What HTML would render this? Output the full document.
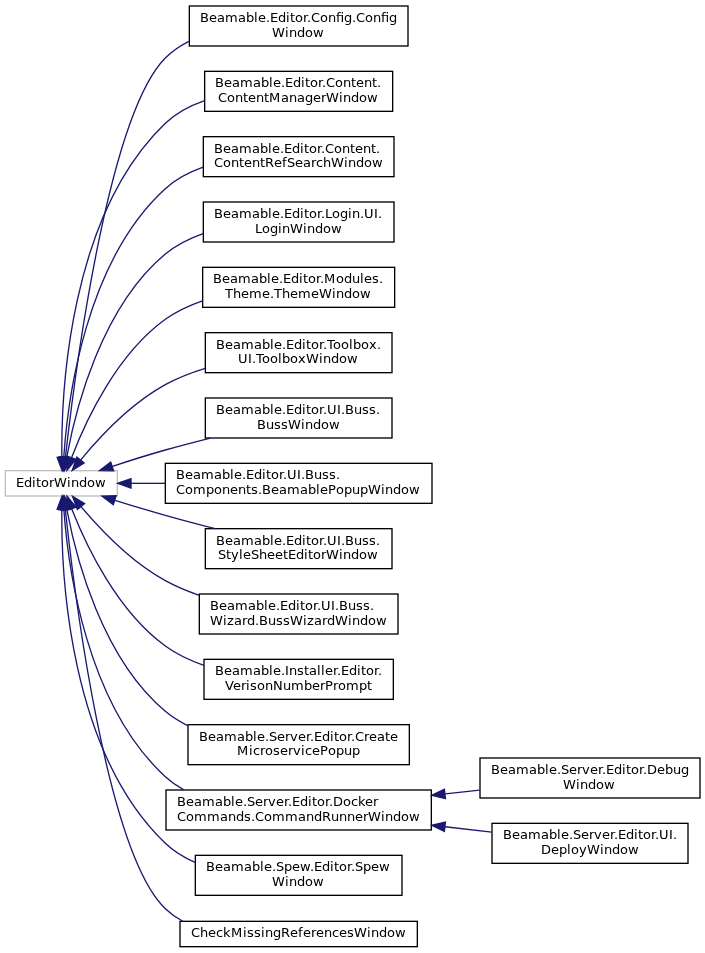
<!DOCTYPE html>
<html lang="en">
<head>
<meta charset="utf-8">
<title>Graphical Class Hierarchy</title>
<style>
html,body{margin:0;padding:0;background:#fff;}
body{width:705px;height:953px;overflow:hidden;}
svg{display:block;}
svg text{font-family:"DejaVu Sans","Liberation Sans",sans-serif;font-size:13px;fill:#000;}
</style>
</head>
<body>
<svg width="705" height="953" viewBox="0 0 705 953">
<rect x="0" y="0" width="705" height="953" fill="#ffffff"/>
<defs>
<filter id="fn" filterUnits="userSpaceOnUse" x="0" y="0" width="705" height="953" color-interpolation-filters="sRGB"><feComponentTransfer><feFuncA type="linear" slope="1.03" intercept="0"/></feComponentTransfer></filter>
</defs>
<!-- nodes (boxes) and inheritance edges; coordinates in points, scaled 96/72 -->
<g transform="scale(1.3333333) translate(4 710.5)">
<rect x="0" y="-357.5" width="84" height="19" fill="#fff" stroke="#bfbfbf"/>
<rect x="138" y="-706" width="164" height="30" fill="#fff" stroke="#000"/>
<path fill="none" stroke="midnightblue" d="M45.09,-367.72C52.13,-430.48 76.98,-623.93 120,-667 125.12,-672.13 131.15,-676.23 137.65,-679.5"/>
<polygon fill="midnightblue" stroke="midnightblue" points="48.55,-367.15 43.98,-357.59 41.59,-367.91 48.55,-367.15"/>
<rect x="149.5" y="-657" width="141" height="30" fill="#fff" stroke="#000"/>
<path fill="none" stroke="midnightblue" d="M42.37,-367.61C41.91,-417.24 47.93,-548.76 120,-618 128.23,-625.9 138.59,-631.35 149.5,-635.07"/>
<polygon fill="midnightblue" stroke="midnightblue" points="45.87,-367.64 42.57,-357.58 38.87,-367.5 45.87,-367.64"/>
<rect x="148.5" y="-608" width="143" height="30" fill="#fff" stroke="#000"/>
<path fill="none" stroke="midnightblue" d="M43.84,-367.78C46.78,-411.06 60.05,-514.62 120,-569 128.06,-576.31 137.96,-581.49 148.35,-585.14"/>
<polygon fill="midnightblue" stroke="midnightblue" points="47.33,-367.49 43.27,-357.7 40.34,-367.88 47.33,-367.49"/>
<rect x="148.5" y="-559" width="143" height="30" fill="#fff" stroke="#000"/>
<path fill="none" stroke="midnightblue" d="M46.05,-367.74C52.68,-403.73 71.88,-479.98 120,-520 128.23,-526.84 138.09,-531.79 148.37,-535.36"/>
<polygon fill="midnightblue" stroke="midnightblue" points="49.45,-366.84 44.32,-357.57 42.55,-368.01 49.45,-366.84"/>
<rect x="148" y="-510" width="144" height="30" fill="#fff" stroke="#000"/>
<path fill="none" stroke="midnightblue" d="M49.74,-367.43C60.29,-394.88 83.38,-444.6 120,-471 128.32,-477 137.95,-481.51 147.87,-484.9"/>
<polygon fill="midnightblue" stroke="midnightblue" points="52.93,-365.97 46.2,-357.79 46.36,-368.38 52.93,-365.97"/>
<rect x="150" y="-461" width="140" height="30" fill="#fff" stroke="#000"/>
<path fill="none" stroke="midnightblue" d="M56.59,-365.64C70.64,-382.63 94.11,-407.8 120,-422 129.23,-427.06 139.51,-431.07 149.87,-434.23"/>
<polygon fill="midnightblue" stroke="midnightblue" points="59.13,-363.21 50.14,-357.6 53.67,-367.59 59.13,-363.21"/>
<rect x="150" y="-412" width="140" height="30" fill="#fff" stroke="#000"/>
<path fill="none" stroke="midnightblue" d="M80.32,-360.75C92.87,-364.87 106.98,-369.31 120,-373 130.89,-376.08 142.52,-379.12 153.85,-381.95"/>
<polygon fill="midnightblue" stroke="midnightblue" points="81.24,-357.37 70.64,-357.54 79.03,-364.01 81.24,-357.37"/>
<rect x="120" y="-363" width="200" height="30" fill="#fff" stroke="#000"/>
<rect x="94.27" y="-348.5" width="25.6" height="1" fill="midnightblue"/>
<polygon fill="midnightblue" stroke="midnightblue" points="94.26,-344.5 84.26,-348 94.26,-351.5 94.26,-344.5"/>
<rect x="150" y="-314" width="140" height="30" fill="#fff" stroke="#000"/>
<path fill="none" stroke="midnightblue" d="M82.28,-335.3C94.34,-331.52 107.68,-327.47 120,-324 132.03,-320.61 144.94,-317.19 157.34,-314.02"/>
<polygon fill="midnightblue" stroke="midnightblue" points="80.99,-332.04 72.5,-338.39 83.09,-338.71 80.99,-332.04"/>
<rect x="145.5" y="-265" width="149" height="30" fill="#fff" stroke="#000"/>
<path fill="none" stroke="midnightblue" d="M56.9,-330.39C71.03,-313.67 94.44,-289.07 120,-275 127.92,-270.64 136.61,-267.03 145.46,-264.03"/>
<polygon fill="midnightblue" stroke="midnightblue" points="54.03,-328.37 50.39,-338.32 59.44,-332.81 54.03,-328.37"/>
<rect x="149" y="-216" width="142" height="30" fill="#fff" stroke="#000"/>
<path fill="none" stroke="midnightblue" d="M49.82,-328.77C60.47,-301.6 83.67,-252.36 120,-226 128.61,-219.75 138.62,-215.06 148.91,-211.54"/>
<polygon fill="midnightblue" stroke="midnightblue" points="46.47,-327.72 46.24,-338.32 53.03,-330.18 46.47,-327.72"/>
<rect x="137" y="-167" width="166" height="30" fill="#fff" stroke="#000"/>
<path fill="none" stroke="midnightblue" d="M46.22,-327.91C53.06,-291.99 72.49,-216.82 120,-177 125.03,-172.79 130.67,-169.27 136.64,-166.33"/>
<polygon fill="midnightblue" stroke="midnightblue" points="42.71,-327.64 44.42,-338.1 49.61,-328.86 42.71,-327.64"/>
<rect x="120.5" y="-118" width="199" height="30" fill="#fff" stroke="#000"/>
<path fill="none" stroke="midnightblue" d="M43.9,-328.35C46.98,-285.34 60.51,-182.4 120,-128 124.19,-124.17 128.87,-120.91 133.87,-118.13"/>
<polygon fill="midnightblue" stroke="midnightblue" points="40.41,-328.17 43.3,-338.36 47.4,-328.59 40.41,-328.17"/>
<rect x="142.5" y="-69" width="155" height="30" fill="#fff" stroke="#000"/>
<path fill="none" stroke="midnightblue" d="M42.37,-328.39C41.91,-278.76 47.93,-147.24 120,-78 126.38,-71.87 134.04,-67.22 142.24,-63.71"/>
<polygon fill="midnightblue" stroke="midnightblue" points="38.87,-328.5 42.57,-338.42 45.87,-328.36 38.87,-328.5"/>
<rect x="131" y="-19.5" width="178" height="19" fill="#fff" stroke="#000"/>
<path fill="none" stroke="midnightblue" d="M45,-328.19C51.79,-265.17 75.95,-71.02 120,-29 123.93,-25.26 128.35,-22.14 133.1,-19.55"/>
<polygon fill="midnightblue" stroke="midnightblue" points="41.5,-328.05 43.94,-338.36 48.46,-328.78 41.5,-328.05"/>
<rect x="356" y="-142" width="165" height="30" fill="#fff" stroke="#000"/>
<path fill="none" stroke="midnightblue" d="M329.93,-115.08C338.62,-116.04 347.3,-117 355.75,-117.94"/>
<polygon fill="midnightblue" stroke="midnightblue" points="330.07,-111.57 319.75,-113.95 329.3,-118.53 330.07,-111.57"/>
<rect x="365" y="-93" width="147" height="30" fill="#fff" stroke="#000"/>
<path fill="none" stroke="midnightblue" d="M329.72,-90.45C341.61,-89.07 353.5,-87.7 364.8,-86.4"/>
<polygon fill="midnightblue" stroke="midnightblue" points="329.28,-86.97 319.75,-91.6 330.08,-93.93 329.28,-86.97"/>
</g>
<!-- node labels: DejaVu Sans, glyphs placed on the pixel grid -->
<g filter="url(#fn)">
<text x="16 24 32 36 41 49 54 67 71 79 87 95" y="487">EditorWindow</text>
<text x="200 209 217 225 238 246 254 258 266 270 278 286 290 295 303 307 311 320 328 336" dx="0 0 0 0 0 0 0 0 0 0 0 0 0 0 0 0 0 0 0 0 0 -0.203 -0.266 -0.141 -0.078 0.031 -0.25 0 -0.203" y="22">Beamable.Editor.Config.Config</text>
<text x="272 285 289 297 305 313" y="37">Window</text>
<text x="215 224 232 240 253 261 269 273 281 285 293 301 305 310 318 322 326 335 343 351 356 364 372 377" y="87">Beamable.Editor.Content.</text>
<text x="218 227 235 243 248 256 264 269 281 289 297 305 313 321 326 339 343 351 359 367" y="102">ContentManagerWindow</text>
<text x="214 223 231 239 252 260 268 272 280 284 292 300 304 309 317 321 325 334 342 350 355 363 371 376" y="153">Beamable.Editor.Content.</text>
<text x="214 223 231 239 244 252 260 265 274 282 287 295 303 311 316 323 331 344 348 356 364 372" y="167">ContentRefSearchWindow</text>
<text x="214 223 231 239 252 260 268 272 280 284 292 300 304 309 317 321 325 332 340 348 352 360 364 374 378" y="218">Beamable.Editor.Login.UI.</text>
<text x="255 262 270 278 282 290 303 307 315 323 331" y="233">LoginWindow</text>
<text x="213 222 230 238 251 259 267 271 279 283 291 299 303 308 316 320 324 336 344 352 360 364 372 379" y="283">Beamable.Editor.Modules.</text>
<text x="225 233 241 249 262 270 274 282 290 298 311 319 332 336 344 352 360" y="298">Theme.ThemeWindow</text>
<text x="216 225 233 241 254 262 270 274 282 286 294 302 306 311 319 323 327 333 341 349 353 361 369 377" y="349">Beamable.Editor.Toolbox.</text>
<text x="238 248 252 256 262 270 278 282 290 298 306 319 323 331 339 347" y="363">UI.ToolboxWindow</text>
<text x="216 225 233 241 254 262 270 274 282 286 294 302 306 311 319 323 327 337 341 345 354 362 369 376" y="414">Beamable.Editor.UI.Buss.</text>
<text x="257 266 274 281 288 301 305 313 321 329" y="429">BussWindow</text>
<text x="176 185 193 201 214 222 230 234 242 246 254 262 266 271 279 283 287 297 301 305 314 322 329 336" y="479">Beamable.Editor.UI.Buss.</text>
<text x="176 185 193 206 214 222 230 238 246 251 258 262 271 279 287 300 308 316 320 328 336 344 352 360 368 381 385 393 401 409" y="494">Components.BeamablePopupWindow</text>
<text x="216 225 233 241 254 262 270 274 282 286 294 302 306 311 319 323 327 337 341 345 354 362 369 376" y="545">Beamable.Editor.UI.Buss.</text>
<text x="218 226 231 239 243 251 259 267 275 283 288 296 304 308 313 321 326 339 343 351 359 367" y="559">StyleSheetEditorWindow</text>
<text x="210 219 227 235 248 256 264 268 276 280 288 296 300 305 313 317 321 331 335 339 348 356 363 370" y="610">Beamable.Editor.UI.Buss.</text>
<text x="210 223 227 234 242 247 255 259 268 276 283 290 303 307 314 322 327 335 348 352 360 368 376" y="625">Wizard.BussWizardWindow</text>
<text x="215 224 232 240 253 261 269 273 281 285 289 297 304 309 317 321 325 333 337 341 349 357 361 366 374 378" y="675">Beamable.Installer.Editor.</text>
<text x="225 233 241 246 250 257 265 273 283 291 304 312 320 325 333 338 346 359 367" y="690">VerisonNumberPrompt</text>
<text x="199 208 216 224 237 245 253 257 265 269 277 285 290 298 306 310 314 322 330 334 339 347 351 355 364 369 377 385 390" y="741">Beamable.Server.Editor.Create</text>
<text x="237 249 253 260 265 273 280 288 293 301 305 312 320 328 336 344 352" y="755">MicroservicePopup</text>
<text x="177 186 194 202 215 223 231 235 243 247 255 263 268 276 284 288 292 300 308 312 317 325 329 333 343 351 358 365 373" y="806">Beamable.Server.Editor.Docker</text>
<text x="177 186 194 207 220 228 236 244 251 255 264 272 285 298 306 314 322 331 339 347 355 363 368 381 385 393 401 409" y="821">Commands.CommandRunnerWindow</text>
<text x="206 215 223 231 244 252 260 264 272 276 284 292 300 310 314 322 330 334 339 347 351 355 363 371 379" y="871">Beamable.Spew.Editor.Spew</text>
<text x="272 285 289 297 305 313" y="886">Window</text>
<text x="191 200 208 216 223 231 243 247 254 261 265 273 281 290 298 303 311 316 324 332 339 347 354 367 371 379 387 395" y="937">CheckMissingReferencesWindow</text>
<text x="491 500 508 516 529 537 545 549 557 561 569 577 582 590 598 602 606 614 622 626 631 639 643 647 657 665 673 681" y="774">Beamable.Server.Editor.Debug</text>
<text x="563 576 580 588 596 604" y="789">Window</text>
<text x="503 512 520 528 541 549 557 561 569 573 581 589 594 602 610 614 618 626 634 638 643 651 655 659 669 673" y="839">Beamable.Server.Editor.UI.</text>
<text x="541 551 559 567 571 579 587 600 604 612 620 628" y="854">DeployWindow</text>
</g>
</svg>
</body>
</html>
